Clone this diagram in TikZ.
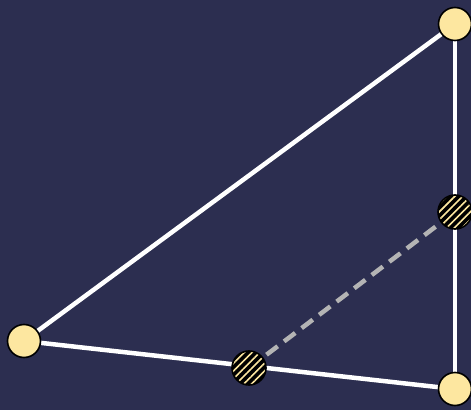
\documentclass[tikz,border=0pt]{standalone}
\usetikzlibrary{patterns.meta}
\definecolor{bgc}{HTML}{2C2E50}
\definecolor{nodey}{HTML}{FDE7A0}
\definecolor{dashg}{HTML}{B4B4B4}
\tikzset{
  vtx/.style={circle, draw=black, line width=1.6pt, fill=nodey, minimum size=33pt, inner sep=0pt},
  hvtx/.style={circle, draw=black, line width=1.6pt, minimum size=34pt, inner sep=0pt,
    preaction={fill=black},
    pattern={Lines[angle=45,distance=5.5pt,line width=1.6pt]}, pattern color=nodey},
  edge/.style={white, line width=4.5pt},
  dedge/.style={dashg, line width=4.5pt, dash pattern=on 14pt off 8pt}
}
\begin{document}
\begin{tikzpicture}[x=1pt,y=1pt]
\fill[bgc] (0,0) rectangle (471,410);
\useasboundingbox (0,0) rectangle (471,410);
\coordinate (A) at (455,386);
\coordinate (B) at (24,69);
\coordinate (C) at (455,21);
\coordinate (D) at (455,198);
\coordinate (E) at (249,42);
\draw[edge] (A) -- (B);
\draw[edge] (A) -- (C);
\draw[edge] (B) -- (C);
\draw[dedge] (E) -- (D);
\node[vtx] (a) at (A) {};
\node[vtx] (b) at (B) {};
\node[vtx] (c) at (C) {};
\node[hvtx] (d) at (D) {};
\node[hvtx] (e) at (E) {};
\end{tikzpicture}
\end{document}
